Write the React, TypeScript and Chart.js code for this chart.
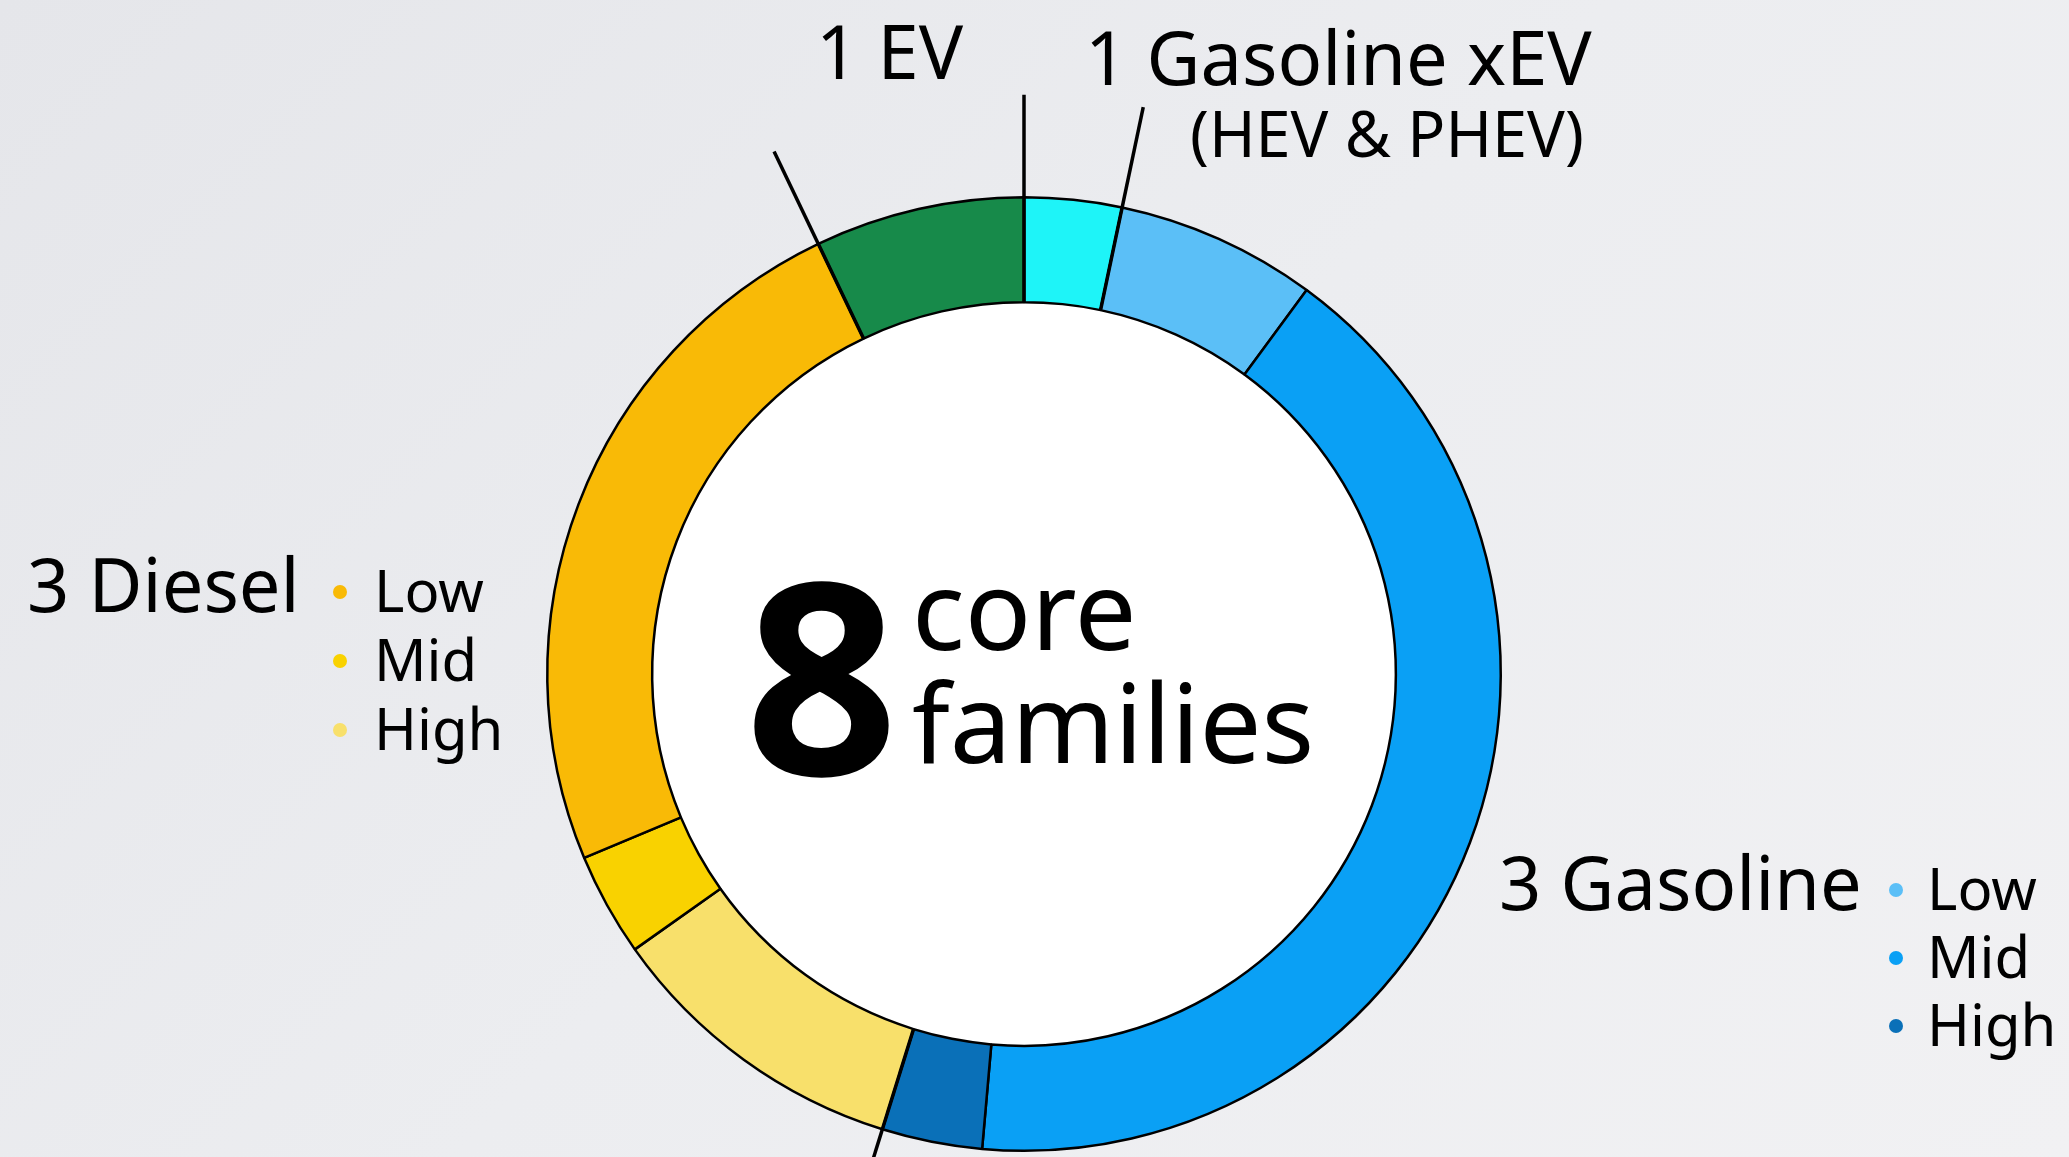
import React, { useEffect, useRef } from "react";
import { Chart, registerables } from "chart.js";

Chart.register(...registerables);

// ---- data (clockwise from 12 o'clock) ----
const segmentLabels = [
  "Gasoline xEV",
  "Gasoline Low",
  "Gasoline Mid",
  "Gasoline High",
  "Diesel High",
  "Diesel Mid",
  "Diesel Low",
  "EV",
];
const segmentValues = [3.3, 6.8, 41.3, 3.4, 10.4, 3.5, 24.2, 7.1];
const segmentColors = [
  "#1ef4f8",
  "#5bbff7",
  "#0aa0f5",
  "#0a70b8",
  "#f8e06b",
  "#f9d200",
  "#f9ba06",
  "#178a4a",
];
// segments whose start boundary gets a leader line
const leaderSegments = [0, 1, 4, 7];

const topLabels = ["1 EV", "1 Gasoline xEV"];
const subTitle = "(HEV & PHEV)";
const groupTitles = ["3 Diesel", "3 Gasoline"];
const tierLabels = ["Low", "Mid", "High"];
const dieselTierColors = ["#f9ba06", "#f9d200", "#f8e06b"];
const gasolineTierColors = ["#5bbff7", "#0aa0f5", "#0a70b8"];
const centerNumber = "8";
const centerWords = ["core", "families"];

const FONT = '"Noto Sans", "Open Sans", sans-serif';

const centerFill = {
  id: "centerFill",
  beforeDatasetsDraw(chart: any) {
    const arc = chart.getDatasetMeta(0).data[0];
    if (!arc) return;
    const ctx = chart.ctx;
    ctx.save();
    ctx.beginPath();
    ctx.arc(arc.x, arc.y, arc.innerRadius, 0, Math.PI * 2);
    ctx.fillStyle = "#ffffff";
    ctx.fill();
    ctx.restore();
  },
};

const leaders = {
  id: "leaders",
  afterDatasetsDraw(chart: any) {
    const meta = chart.getDatasetMeta(0);
    const ctx = chart.ctx;
    ctx.save();
    ctx.strokeStyle = "#000";
    ctx.lineWidth = 3.5;
    ctx.lineCap = "butt";
    leaderSegments.forEach((i) => {
      const arc = meta.data[i];
      const a = arc.startAngle;
      const r1 = arc.innerRadius;
      const r2 = arc.outerRadius * 1.215;
      ctx.beginPath();
      ctx.moveTo(arc.x + r1 * Math.cos(a), arc.y + r1 * Math.sin(a));
      ctx.lineTo(arc.x + r2 * Math.cos(a), arc.y + r2 * Math.sin(a));
      ctx.stroke();
    });
    ctx.restore();
  },
};

const texts = {
  id: "texts",
  afterDraw(chart: any) {
    const ctx = chart.ctx;
    ctx.save();
    ctx.fillStyle = "#000";
    ctx.textBaseline = "alphabetic";
    ctx.textAlign = "left";

    ctx.font = `400 74px ${FONT}`;
    ctx.fillText(topLabels[0], 816, 79);
    ctx.fillText(topLabels[1], 1085, 85);
    ctx.font = `400 63px ${FONT}`;
    ctx.fillText(subTitle, 1190, 157);

    ctx.font = `400 74px ${FONT}`;
    ctx.fillText(groupTitles[0], 27, 612);
    ctx.fillText(groupTitles[1], 1499, 910);

    const drawTiers = (bx: number, tx: number, y0: number, step: number, colors: string[]) => {
      tierLabels.forEach((t, i) => {
        const y = y0 + i * step;
        ctx.fillStyle = colors[i];
        ctx.beginPath();
        ctx.arc(bx, y - 20, 7, 0, Math.PI * 2);
        ctx.fill();
        ctx.fillStyle = "#000";
        ctx.font = `400 58px ${FONT}`;
        ctx.fillText(t, tx, y);
      });
    };
    drawTiers(340, 374, 612, 69, dieselTierColors);
    drawTiers(1896, 1927, 910, 68, gasolineTierColors);

    ctx.font = `700 268px ${FONT}`;
    ctx.fillText(centerNumber, 745, 775);
    ctx.font = `400 110px ${FONT}`;
    ctx.fillText(centerWords[0], 912, 650);
    ctx.fillText(centerWords[1], 912, 763);
    ctx.restore();
  },
};

export default function App() {
  const ref = useRef<HTMLCanvasElement | null>(null);
  useEffect(() => {
    document.body.style.margin = "0";
    const canvas = ref.current;
    if (!canvas) return;
    const chart = new Chart(canvas, {
      type: "doughnut",
      data: {
        labels: segmentLabels,
        datasets: [
          {
            data: segmentValues,
            backgroundColor: segmentColors,
            borderColor: "#000",
            borderWidth: 2.5,
            hoverOffset: 0,
          },
        ],
      },
      options: {
        responsive: false,
        animation: false,
        devicePixelRatio: 1,
        cutout: "78%",
        layout: { padding: { left: 546, right: 567, top: 196, bottom: 5 } },
        plugins: {
          legend: { display: false },
          tooltip: { enabled: false },
        },
        events: [],
      },
      plugins: [centerFill, leaders, texts],
    });
    return () => chart.destroy();
  }, []);
  return (
    <div
      style={{
        position: "fixed",
        left: 0,
        top: 0,
        width: 2069,
        height: 1157,
        background: "linear-gradient(135deg, #e5e6ea 0%, #ecedf0 50%, #f1f1f3 100%)",
        overflow: "hidden",
      }}
    >
      <canvas ref={ref} width={2069} height={1157} style={{ display: "block" }} />
    </div>
  );
}
